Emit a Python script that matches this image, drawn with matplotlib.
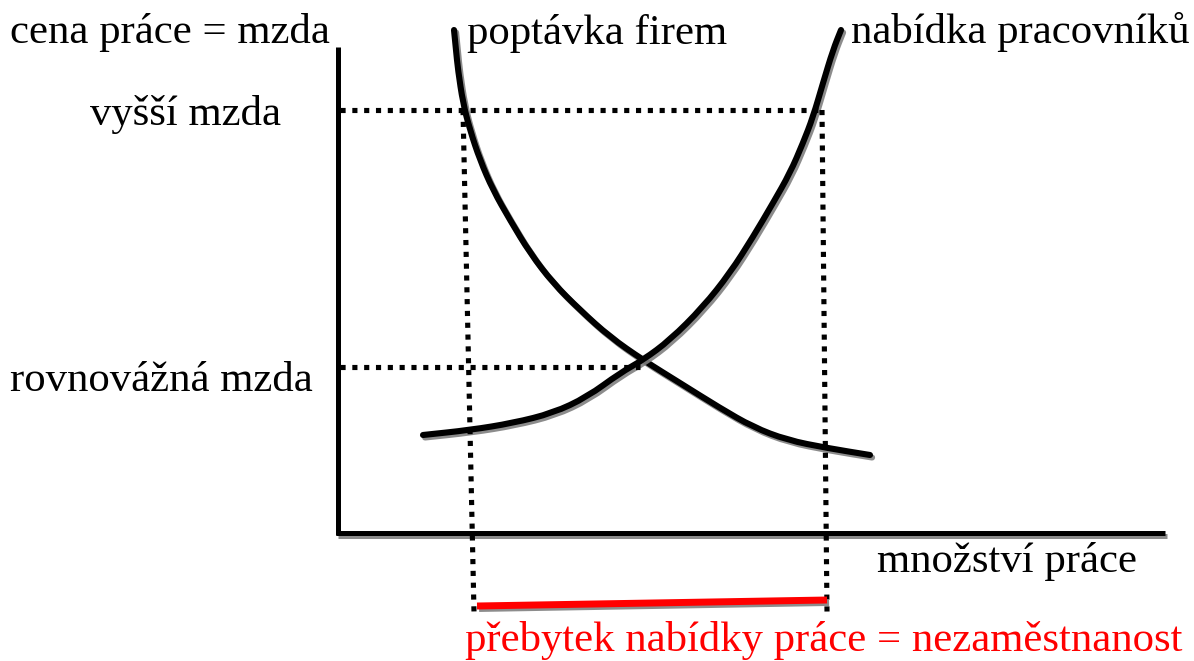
import matplotlib.pyplot as plt
import matplotlib.patheffects as pe
from matplotlib.path import Path
from matplotlib.patches import PathPatch

# souřadnice (pixely, y roste dolů)
poptavka_x = [454, 456, 458, 463, 470, 480, 493, 510, 530, 553, 580, 610, 643,
              680, 720, 753, 787, 827, 870]
poptavka_y = [30, 50, 70, 103, 130, 160, 190, 220, 253, 283, 310, 337, 360,
              383, 408, 427, 440, 448, 455]

nabidka_x = [423, 470, 513, 553, 587, 620, 643, 670, 703, 730, 753, 773, 790,
             803, 813, 823, 833, 841]
nabidka_y = [435, 430, 423, 413, 397, 373, 360, 340, 307, 273, 237, 203, 173,
             143, 117, 83, 50, 30]

osa_y_x = [338, 338]
osa_y_y = [47, 535]
osa_x_x = [336, 1165]
osa_x_y = [533, 533]

vyssi_mzda = 110
rovnovazna_mzda = 367
q_poptavka = [463, 474]   # levá svislá tečkovaná čára (nahoře, dole)
q_nabidka = [822, 827]    # pravá svislá tečkovaná čára
dno_car = 612

prebytek_x = [477, 827]
prebytek_y = [606, 600]

popisky = [
    ("cena práce = mzda", 10, 43, "black"),
    ("poptávka firem", 467, 44, "black"),
    ("nabídka pracovníků", 851, 43, "black"),
    ("vyšší mzda", 90, 125, "black"),
    ("rovnovážná mzda", 10, 391, "black"),
    ("množství práce", 877, 572, "black"),
    ("přebytek nabídky práce = nezaměstnanost", 465, 651, "red"),
]


# hladká křivka - body jako řídicí body kvadratických Bézierových úseků
def hladka_cesta(xs, ys):
    body = list(zip(xs, ys))
    stred = lambda a, b: ((a[0] + b[0]) / 2, (a[1] + b[1]) / 2)
    verts = [body[0], stred(body[0], body[1])]
    codes = [Path.MOVETO, Path.LINETO]
    for i in range(1, len(body) - 1):
        verts += [body[i], stred(body[i], body[i + 1])]
        codes += [Path.CURVE3, Path.CURVE3]
    verts.append(body[-1])
    codes.append(Path.LINETO)
    return Path(verts, codes)


fig = plt.figure(figsize=(11.94, 6.61), dpi=100)
ax = fig.add_axes([0, 0, 1, 1])
ax.set_xlim(0, 1194)
ax.set_ylim(661, 0)
ax.axis("off")

stin = [pe.SimpleLineShadow(offset=(1.5, -1.8), shadow_color="gray", alpha=0.9), pe.Normal()]
tecky = dict(color="black", lw=3.7, linestyle=(0, (1.0, 1.3)), dash_capstyle="butt")

# osy
ax.plot(osa_y_x, osa_y_y, color="black", lw=3.6, solid_capstyle="butt")
ax.plot(osa_x_x, osa_x_y, color="black", lw=3.6, solid_capstyle="butt", path_effects=stin)

# tečkované čáry
ax.plot([osa_y_x[0] + 2, q_nabidka[0]], [vyssi_mzda, vyssi_mzda], **tecky)
ax.plot([osa_y_x[0] + 2, 640], [rovnovazna_mzda, rovnovazna_mzda], **tecky)
ax.plot(q_poptavka, [vyssi_mzda, dno_car], **tecky)
ax.plot(q_nabidka, [vyssi_mzda, dno_car], **tecky)

# křivky
for xs, ys in [(poptavka_x, poptavka_y), (nabidka_x, nabidka_y)]:
    ax.add_patch(PathPatch(hladka_cesta(xs, ys), fill=False, edgecolor="black", lw=4.4,
                           capstyle="round", joinstyle="round", path_effects=stin))

# nezaměstnanost
ax.plot(prebytek_x, prebytek_y, color="red", lw=5, solid_capstyle="butt", path_effects=stin)

for text, x, y, barva in popisky:
    ax.text(x, y, text, color=barva, fontsize=30.8, family="Liberation Serif",
            ha="left", va="baseline")

fig.savefig("out.png", dpi=100)
